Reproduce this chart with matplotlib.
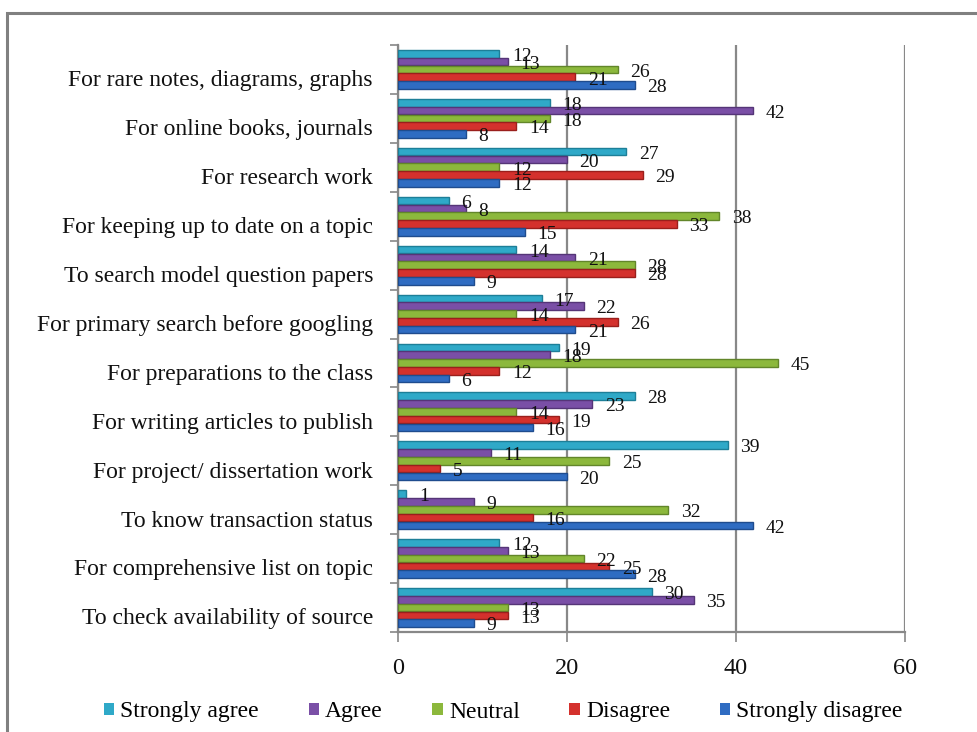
import matplotlib.pyplot as plt
import numpy as np
from matplotlib.patches import Rectangle, Patch

categories = [
    "For rare notes, diagrams, graphs",
    "For online books, journals",
    "For research work",
    "For keeping up to date on a topic",
    "To search model question papers",
    "For primary search before googling",
    "For preparations to the class",
    "For writing articles to publish",
    "For project/ dissertation work",
    "To know transaction status",
    "For comprehensive list on topic",
    "To check availability of source",
]
strongly_agree = [12, 18, 27, 6, 14, 17, 19, 28, 39, 1, 12, 30]
agree = [13, 42, 20, 8, 21, 22, 18, 23, 11, 9, 13, 35]
neutral = [26, 18, 12, 38, 28, 14, 45, 14, 25, 32, 22, 13]
disagree = [21, 14, 29, 33, 28, 26, 12, 19, 5, 16, 25, 13]
strongly_disagree = [28, 8, 12, 15, 9, 21, 6, 16, 20, 42, 28, 9]

series_names = ["Strongly agree", "Agree", "Neutral", "Disagree", "Strongly disagree"]
series_values = [strongly_agree, agree, neutral, disagree, strongly_disagree]
colors = ["#2fa9c8", "#7a4fa6", "#8cb83c", "#d4312d", "#2f6cc2"]
edges = ["#1d7f98", "#553577", "#62862a", "#9a1f1c", "#1f4c8e"]

serif = ["Liberation Serif", "DejaVu Serif"]
plt.rcParams["font.family"] = serif

W, H = 977, 732
fig = plt.figure(figsize=(W / 100, H / 100), dpi=100)
ax = fig.add_axes([398 / W, 1 - 632 / H, (905 - 398) / W, (632 - 45) / H])

n = len(categories)
y = np.arange(n)
h = 0.16
for i, (name, vals, col, ec) in enumerate(zip(series_names, series_values, colors, edges)):
    pos = y + (i - 2) * h
    ax.barh(pos, vals, height=h * 0.97, color=col, edgecolor=ec, linewidth=1.0,
            label=name, zorder=3)
    for p, v in zip(pos, vals):
        ax.annotate(str(v), (v, p), xytext=(9, -2), textcoords="offset points",
                    ha="left", va="center", fontsize=14, color="#111111", zorder=4)

ax.set_xlim(0, 60)
ax.set_ylim(n - 0.5, -0.5)

ax.set_xticks([0, 20, 40, 60])
ax.tick_params(axis="x", length=7, width=1.2, color="#888888", pad=12,
               labelsize=17.5, labelcolor="#111111")
ax.xaxis.grid(True, color="#888888", linewidth=1.6, zorder=1)

ax.set_yticks(y + 0.18)
ax.set_yticklabels(categories, fontsize=17, color="#111111")
ax.tick_params(axis="y", which="major", length=0, pad=18)
ax.set_yticks(np.arange(n + 1) - 0.5, minor=True)
ax.tick_params(axis="y", which="minor", length=6, width=1.2, color="#888888")

for s in ["top", "right"]:
    ax.spines[s].set_visible(False)
for s in ["left", "bottom"]:
    ax.spines[s].set_color("#888888")
    ax.spines[s].set_linewidth(1.6)

handles = [Patch(facecolor=c, edgecolor="none") for c in colors]
fig.legend(handles, series_names, loc="center", bbox_to_anchor=(0.515, 1 - 712 / H),
           ncol=5, frameon=False, fontsize=17, handlelength=0.45, handleheight=0.45,
           handletextpad=0.25, columnspacing=2.1)

fig.add_artist(Rectangle((7 / W, -0.1), 2, 1 - 13 / H + 0.1, transform=fig.transFigure,
                         fill=False, edgecolor="#808080", linewidth=2.2))

fig.savefig("out.png", dpi=100)
